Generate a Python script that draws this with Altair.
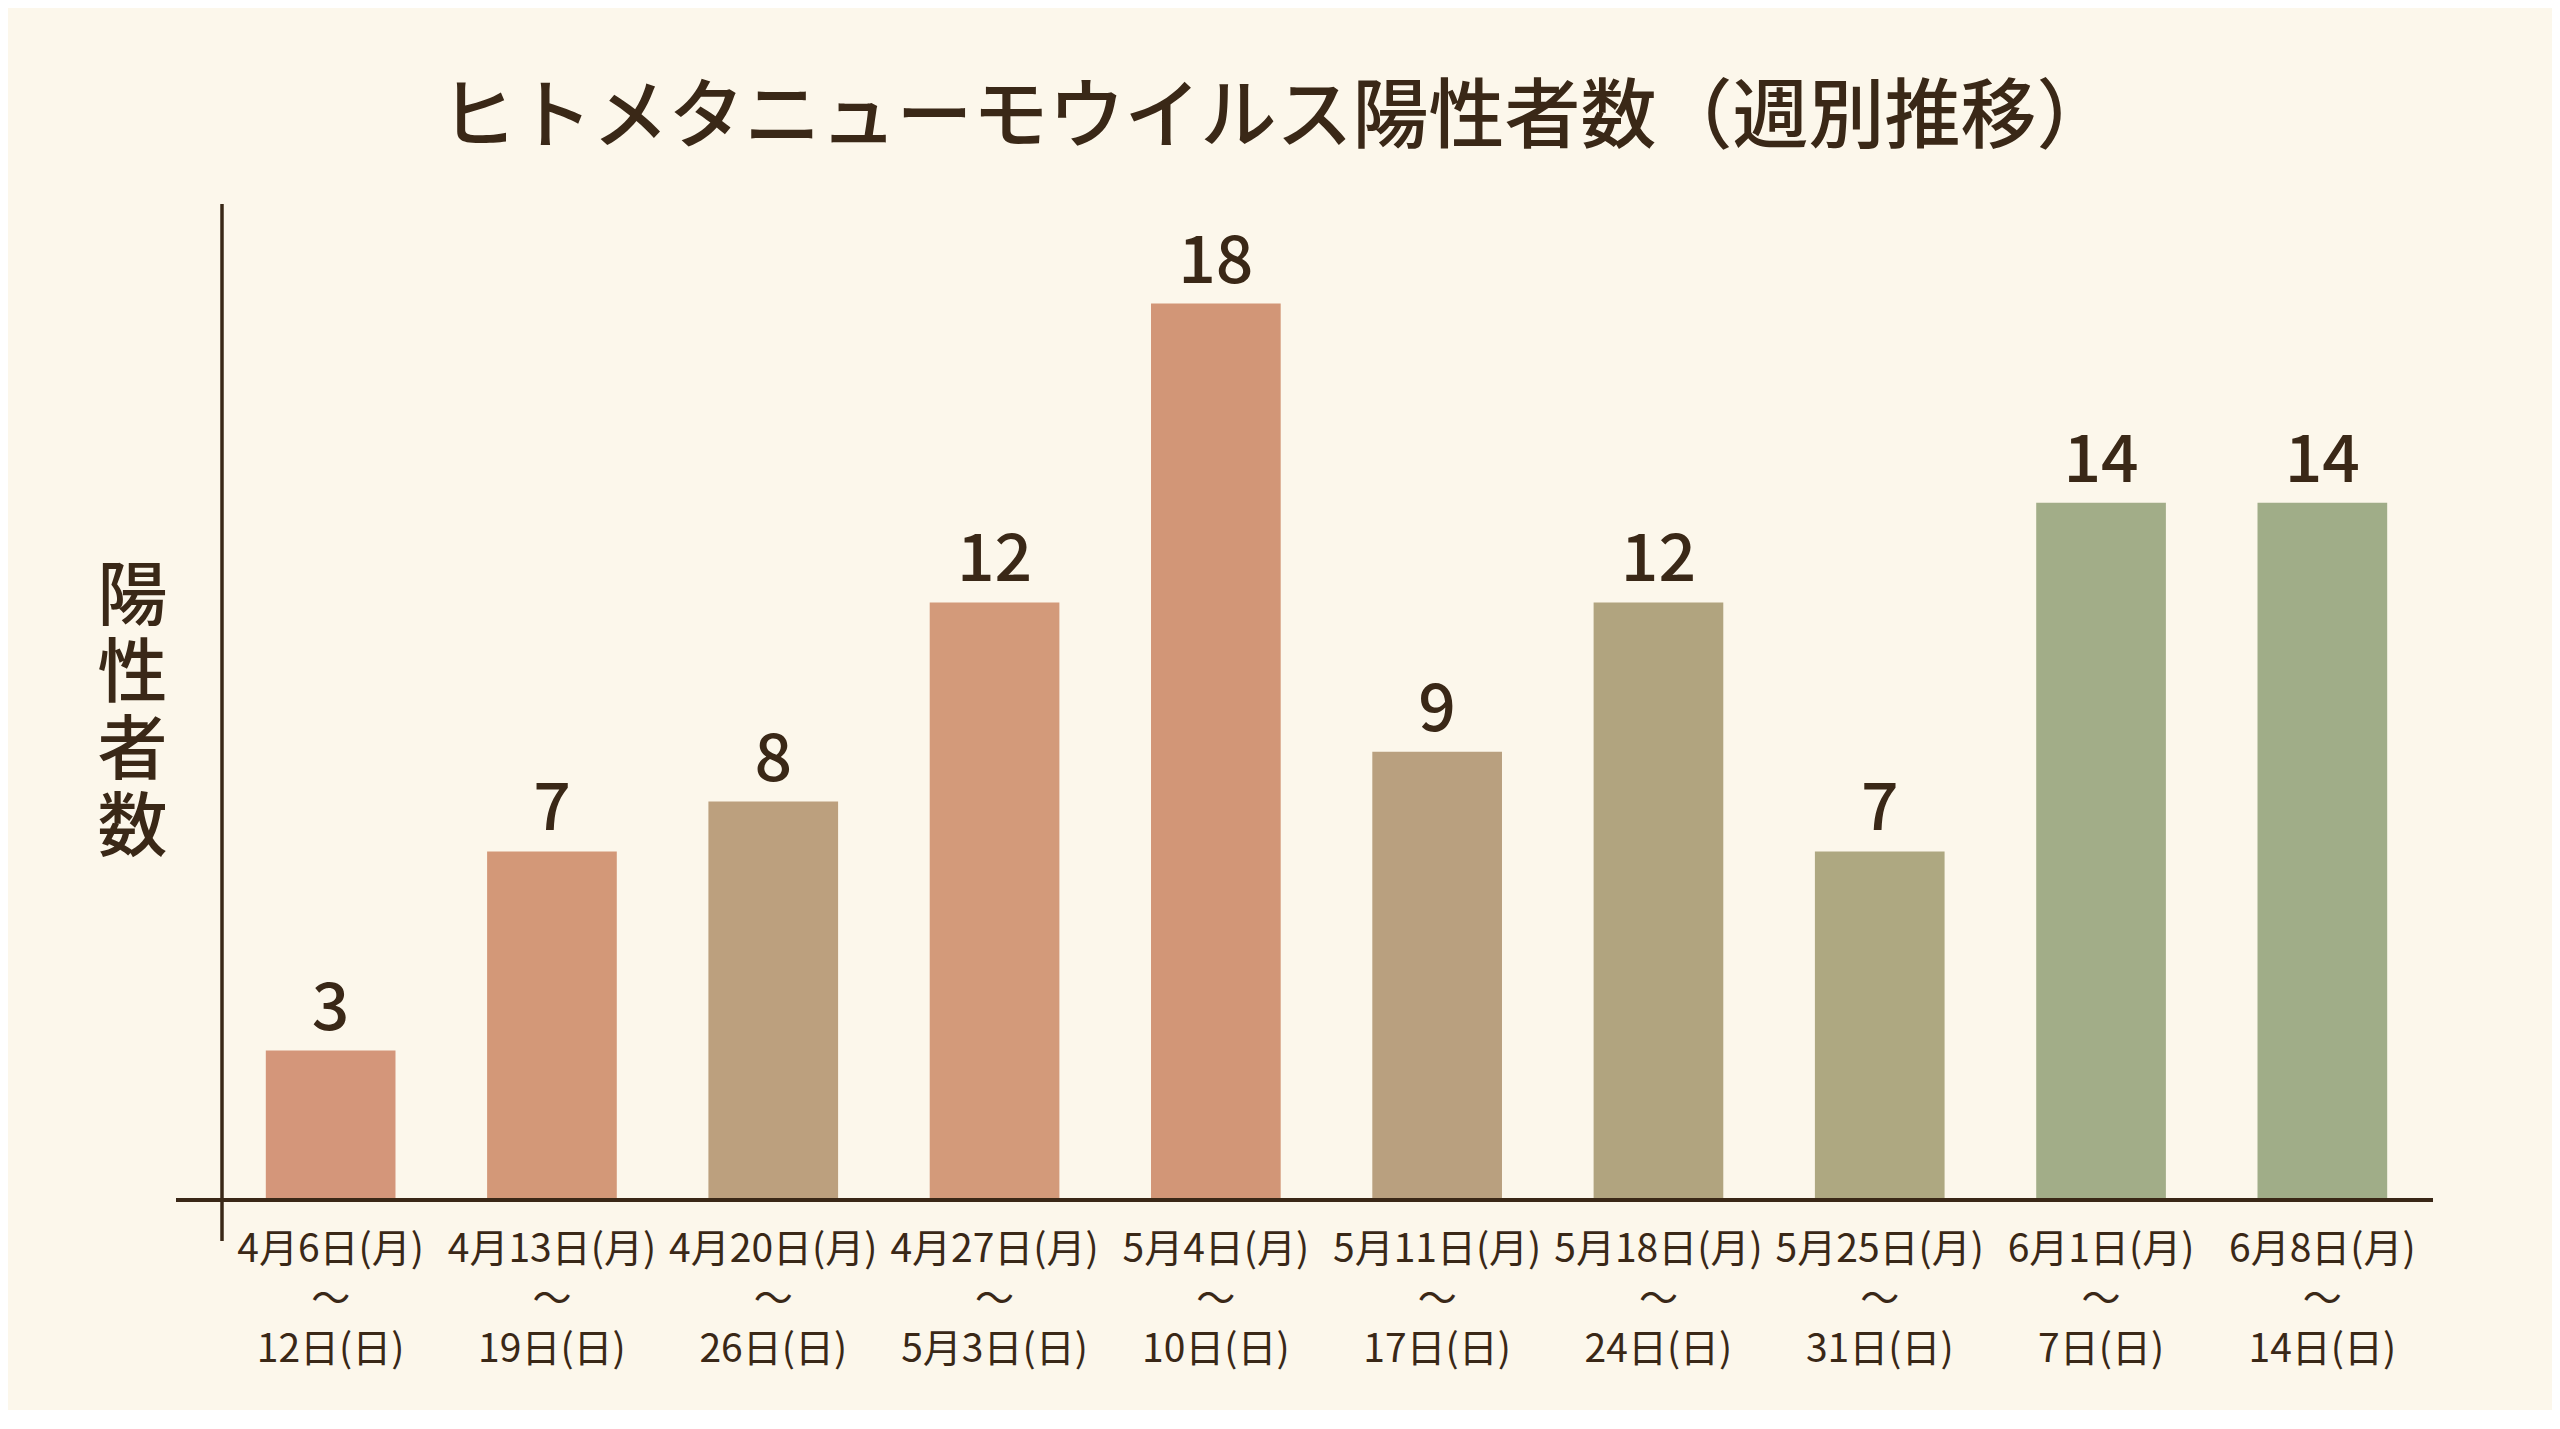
import altair as alt
import pandas as pd

# ---- data ----
week_start = ["4月6日(月)", "4月13日(月)", "4月20日(月)", "4月27日(月)", "5月4日(月)",
              "5月11日(月)", "5月18日(月)", "5月25日(月)", "6月1日(月)", "6月8日(月)"]
week_end = ["12日(日)", "19日(日)", "26日(日)", "5月3日(日)", "10日(日)",
            "17日(日)", "24日(日)", "31日(日)", "7日(日)", "14日(日)"]
positives = [3, 7, 8, 12, 18, 9, 12, 7, 14, 14]
bar_colors = ["#D4967A", "#D39878", "#BCA07E", "#D39A7A", "#D29677",
              "#B9A07F", "#B1A47F", "#AEA881", "#A2AD88", "#A0AD88"]

title_text = "ヒトメタニューモウイルス陽性者数（週別推移）"
y_title = ["陽", "性", "者", "数"]

labels = [f"{s}|～|{e}" for s, e in zip(week_start, week_end)]
df = pd.DataFrame({"week": labels, "count": positives})

FONT = "Noto Sans CJK JP"
INK = "#3A2817"
BG = "#FCF7EB"

W, H = 2213, 996

x_enc = alt.X("week:N", sort=labels,
              scale=alt.Scale(paddingInner=0.414, paddingOuter=0.207),
              axis=alt.Axis(title=None, labelAngle=0, domain=False, ticks=False,
                            labelExpr="split(datum.label, '|')", labelLimit=500,
                            labelFont=FONT, labelFontSize=39, labelColor=INK,
                            labelLineHeight=50, labelPadding=30))
y_enc = alt.Y("count:Q", scale=alt.Scale(domain=[0, 20]),
              axis=alt.Axis(title=y_title, titleAngle=0, titleX=-88, titleY=394,
                            titleAlign="center", titleBaseline="middle",
                            titleFont=FONT, titleFontSize=70, titleFontWeight=500,
                            titleColor=INK, titleLineHeight=77,
                            labels=False, ticks=False, domain=False, grid=False))

base = alt.Chart(df)

bars = base.mark_bar().encode(
    x=x_enc,
    y=y_enc,
    color=alt.Color("week:N", sort=labels,
                    scale=alt.Scale(domain=labels, range=bar_colors), legend=None),
)

values = base.mark_text(baseline="alphabetic", dy=-21, font=FONT, fontSize=66,
                        fontWeight=500, color=INK).encode(
    x=alt.X("week:N", sort=labels),
    y="count:Q",
    text="count:Q",
)

axis_src = alt.Data(values=[{"v": 0}])
x_line = alt.Chart(axis_src).mark_rule(color=INK, strokeWidth=4).encode(
    y=alt.datum(0), x=alt.value(-44), x2=alt.value(W))
y_line = alt.Chart(axis_src).mark_rule(color=INK, strokeWidth=3.5).encode(
    x=alt.value(2), y=alt.value(0), y2=alt.value(H + 41))

chart = alt.layer(bars, values, x_line, y_line).properties(
    width=W, height=H,
    title=alt.TitleParams(title_text, font=FONT, fontSize=76, fontWeight=500,
                          color=INK, anchor="middle", frame="group", dx=-50,
                          offset=44),
    background=BG,
    autosize=alt.AutoSizeParams(type="none"),
    padding={"left": 212, "top": 196, "right": 119, "bottom": 210},
).configure_view(stroke=None)

chart.save("out.html", embed_options={"renderer": "svg", "actions": False})
